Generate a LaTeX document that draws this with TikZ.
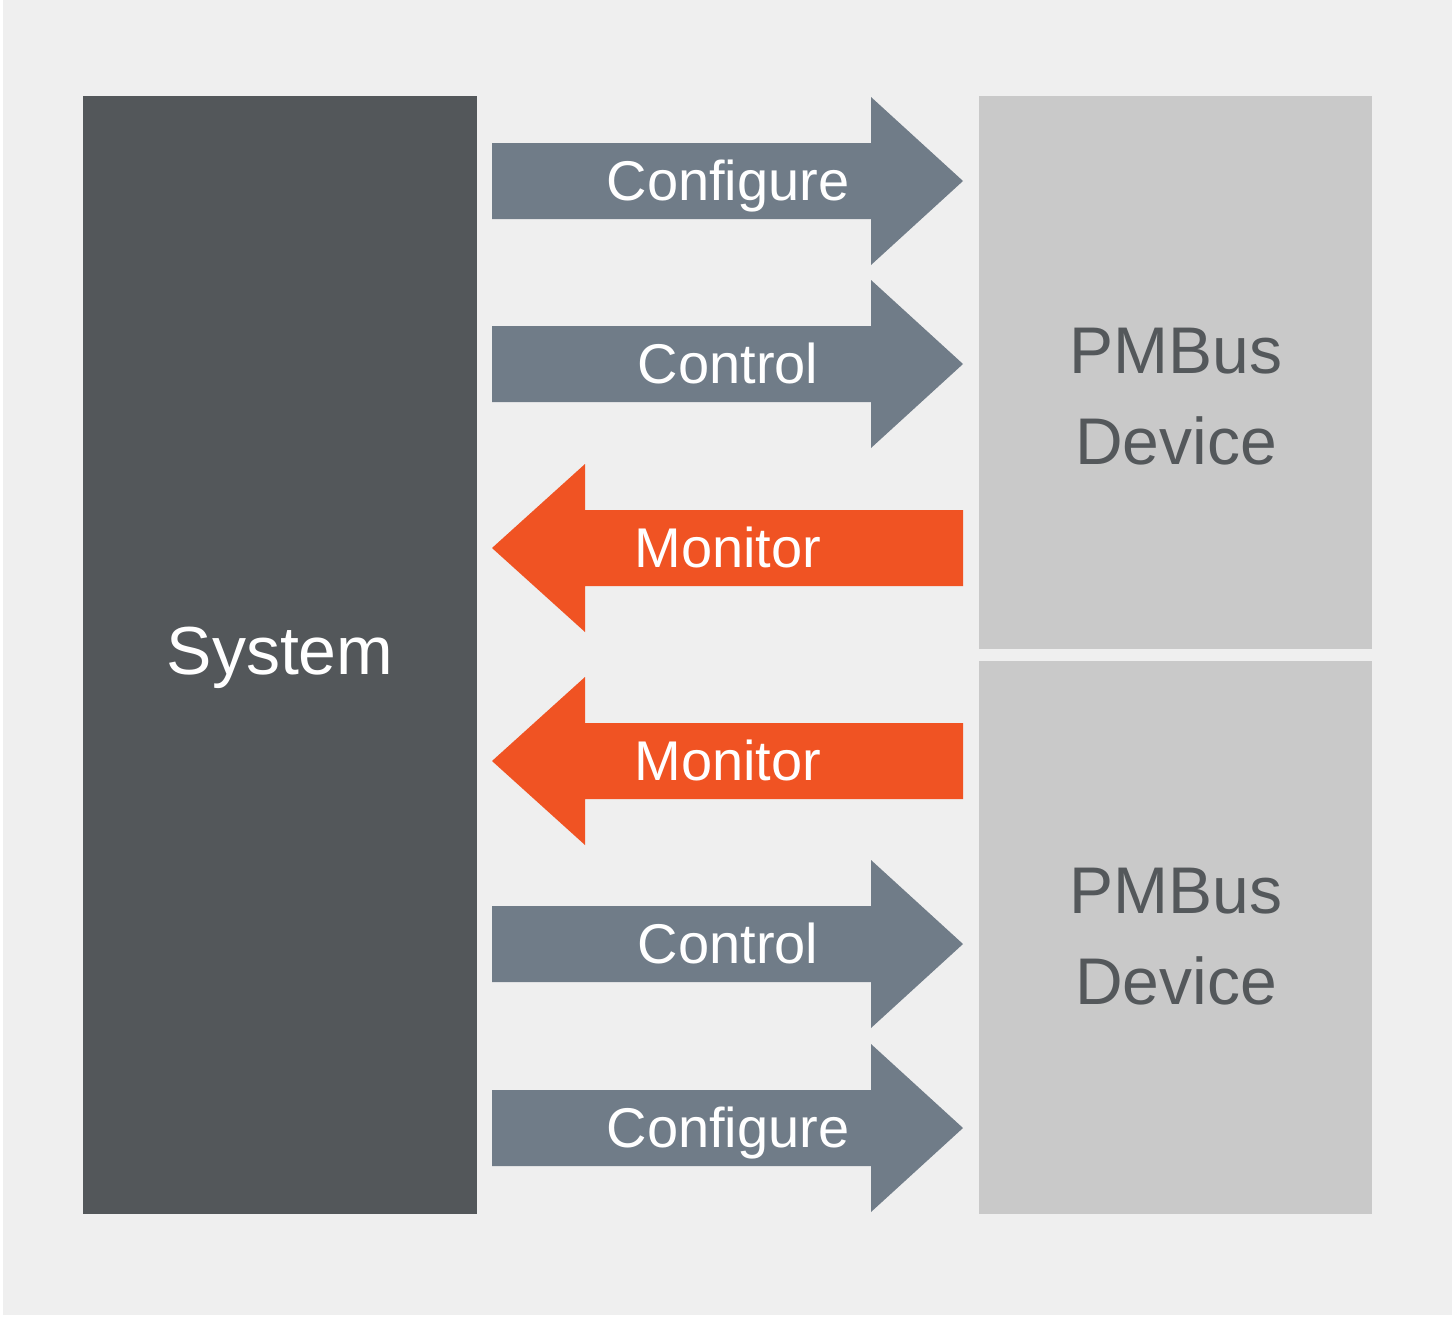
\documentclass[tikz,border=0pt]{standalone}
\usepackage{fontspec}
\setmainfont{Liberation Sans}
\definecolor{bgc}{HTML}{EFEFEF}
\definecolor{sysc}{HTML}{53575A}
\definecolor{devc}{HTML}{C9C9C9}
\definecolor{arrg}{HTML}{707C88}
\definecolor{arro}{HTML}{F05323}
\definecolor{devtext}{HTML}{54585B}
\tikzset{
  lbl/.style={text=white, font=\fontsize{56}{60}\selectfont, anchor=base, inner sep=0pt},
  devlbl/.style={text=devtext, font=\fontsize{66}{91}\selectfont, anchor=base, inner sep=0pt},
  syslbl/.style={text=white, font=\fontsize{68}{72}\selectfont, anchor=base, inner sep=0pt},
}
% right arrow centred at y=#1
\newcommand{\rarrow}[2]{%
  \fill[#2] (492,#1-38) -- (871,#1-38) -- (871,#1-84) -- (963,#1) -- (871,#1+84) -- (871,#1+38) -- (492,#1+38) -- cycle;}
\newcommand{\larrow}[2]{%
  \fill[#2] (963,#1-38) -- (585,#1-38) -- (585,#1-84) -- (492,#1) -- (585,#1+84) -- (585,#1+38) -- (963,#1+38) -- cycle;}
\begin{document}
\begin{tikzpicture}[x=1pt,y=-1pt]
\useasboundingbox (0,0) rectangle (1456,1317);
\fill[white] (0,0) rectangle (1456,1317);
\fill[bgc] (3,0) rectangle (1452,1315);
% boxes
\fill[sysc] (83,96) rectangle (477,1214);
\fill[devc] (979,96) rectangle (1372,649);
\fill[devc] (979,661) rectangle (1372,1214);
% arrows
\rarrow{181}{arrg}
\rarrow{364}{arrg}
\larrow{548}{arro}
\larrow{761}{arro}
\rarrow{944}{arrg}
\rarrow{1128}{arrg}
% labels
\node[lbl] (cfg1) at (728,200) {Configure};
\node[lbl] (ctl1) at (728,383) {Control};
\node[lbl] (mon1) at (728,567) {Monitor};
\node[lbl] (mon2) at (728,780) {Monitor};
\node[lbl] (ctl2) at (728,963) {Control};
\node[lbl] (cfg2) at (728,1147) {Configure};
\node[syslbl] (system) at (280,674) {System};
\node[devlbl] (dev1a) at (1176,373) {PMBus};
\node[devlbl] (dev1b) at (1176,464) {Device};
\node[devlbl] (dev2a) at (1176,913) {PMBus};
\node[devlbl] (dev2b) at (1176,1004) {Device};
\end{tikzpicture}
\end{document}
